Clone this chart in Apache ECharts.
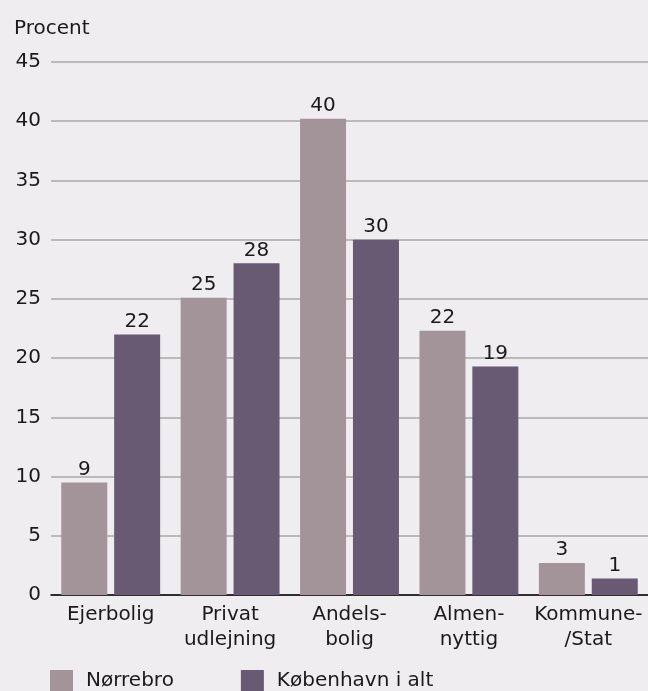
<!DOCTYPE html>
<html>
<head>
<meta charset="utf-8">
<script src="https://cdn.jsdelivr.net/npm/echarts@6/dist/echarts.min.js"></script>
<style>
html,body{margin:0;padding:0;background:#efedf0;}
#c{width:648px;height:691px;}
</style>
</head>
<body>
<div id="c"></div>
<script>
var categories = ['Ejerbolig', 'Privat\nudlejning', 'Andels-\nbolig', 'Almen-\nnyttig', 'Kommune-\n/Stat'];
var seriesNames = ['Nørrebro', 'København i alt'];
var norrebro = [9.5, 25.1, 40.2, 22.3, 2.7];
var kobenhavn = [22.0, 28.0, 30.0, 19.3, 1.4];
var norrebroLabels = ['9', '25', '40', '22', '3'];
var kobenhavnLabels = ['22', '28', '30', '19', '1'];
var yTicks = [0, 5, 10, 15, 20, 25, 30, 35, 40, 45];

var FONT = '"DejaVu Sans"';
var FS = 20;
var chart = echarts.init(document.getElementById('c'));
function mkLabel(labels) {
  return {
    show: true, position: 'top', distance: 3,
    color: '#1a1a1a', fontSize: FS, fontFamily: FONT,
    formatter: function (p) { return labels[p.dataIndex]; }
  };
}
chart.setOption({
  backgroundColor: '#efedf0',
  animation: false,
  title: {
    text: 'Procent', left: 14, top: 19, padding: 0,
    textStyle: { color: '#1a1a1a', fontSize: FS, fontWeight: 'normal', fontFamily: FONT }
  },
  grid: { left: 51, right: 0, top: 62, bottom: 96, containLabel: false },
  legend: {
    left: 50, top: 670, padding: 0, itemWidth: 23, itemHeight: 22, itemGap: 67,
    icon: 'rect',
    textStyle: { color: '#1a1a1a', fontSize: FS, fontFamily: FONT, padding: [2, 0, 0, 8] },
    data: seriesNames
  },
  xAxis: {
    type: 'category', data: categories,
    axisLine: { show: true, lineStyle: { color: '#000', width: 1.5 } },
    axisTick: { show: false },
    axisLabel: { color: '#1a1a1a', fontSize: FS, fontFamily: FONT, margin: 7, lineHeight: 25, interval: 0 }
  },
  yAxis: {
    type: 'value', min: yTicks[0], max: yTicks[yTicks.length - 1], interval: 5,
    axisLine: { show: false }, axisTick: { show: false },
    axisLabel: { color: '#1a1a1a', fontSize: FS, fontFamily: FONT, margin: 10 },
    splitLine: { lineStyle: { color: '#a9a9a9', width: 1.5 } }
  },
  series: [
    { name: seriesNames[0], type: 'bar', data: norrebro, barWidth: 46, barGap: '15%',
      itemStyle: { color: '#a39499' }, label: mkLabel(norrebroLabels) },
    { name: seriesNames[1], type: 'bar', data: kobenhavn, barWidth: 46,
      itemStyle: { color: '#685a73' }, label: mkLabel(kobenhavnLabels) }
  ]
});
</script>
</body>
</html>
